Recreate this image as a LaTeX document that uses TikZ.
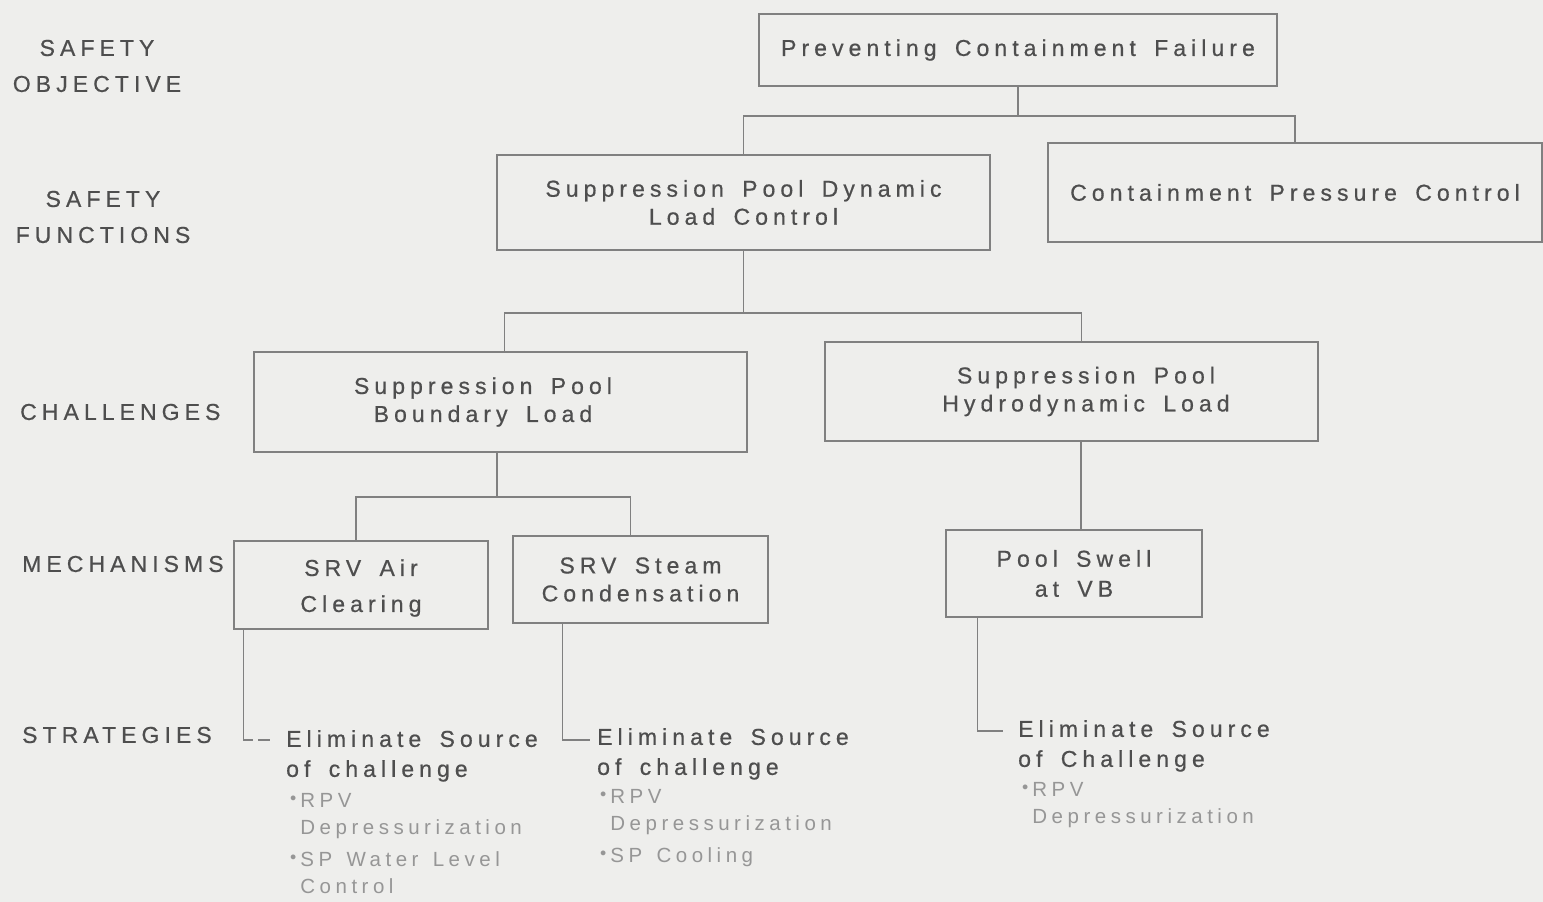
\documentclass[tikz,border=0pt]{standalone}
\usepackage{fontspec}
\setmainfont{Liberation Sans}[LetterSpace=22, WordSpace=1.6, FakeBold=0.6]
\newfontfamily\subfont{Liberation Sans}[LetterSpace=22, WordSpace=1.4]
\definecolor{paper}{RGB}{238,238,236}
\definecolor{ink}{RGB}{78,78,78}
\definecolor{rule}{RGB}{128,128,128}
\definecolor{faint}{RGB}{150,150,150}
\newcommand{\itemdot}{\raisebox{0.55ex}{\scalebox{0.6}{$\bullet$}}\hspace{4pt}}
\begin{document}
\begin{tikzpicture}[x=1pt,y=-1pt,
  box/.style={draw=rule, line width=1.4pt, inner sep=0pt, align=center,
    text=ink, font=\fontsize{23}{28}\selectfont},
  boxtext/.style={inner sep=0pt, align=center, text=ink,
    font=\fontsize{23}{28}\selectfont},
  level/.style={text=ink, inner sep=0pt, font=\fontsize{23}{36}\selectfont},
  link/.style={draw=rule, line width=1.4pt},
  head/.style={text=ink, inner sep=0pt, anchor=north west, align=left,
    font=\fontsize{23}{30}\selectfont},
  sub/.style={text=faint, inner sep=0pt, anchor=north west, align=left,
    font=\subfont\fontsize{20.5}{27}\selectfont}]
\useasboundingbox[fill=paper] (0,0) rectangle (1543,902);

% level labels on the left
\node[level, align=center] (lobj) at (97,66) {SAFETY\\OBJECTIVE};
\node[level, align=center] (lfun) at (103,217) {SAFETY\\FUNCTIONS};
\node[level, anchor=west] (lcha) at (20,412) {CHALLENGES};
\node[level, anchor=west] (lmec) at (22,564) {MECHANISMS};
\node[level, anchor=west] (lstr) at (22,735) {STRATEGIES};

% boxes
\node[box, minimum width=518, minimum height=72] (b1) at (1018,50)
  {Preventing Containment Failure};
\node[box, minimum width=493, minimum height=95] (b2) at (743.5,202.5)
  {Suppression Pool Dynamic\\Load Control};
\node[box, minimum width=494, minimum height=99] (b3) at (1295,192.5)
  {Containment Pressure Control};
\node[box, minimum width=493, minimum height=100] (b4) at (500.5,402) {};
\node[boxtext] (b4t) at (483,402) {Suppression Pool\\Boundary Load};
\node[box, minimum width=493, minimum height=99] (b5) at (1071.5,391.5) {};
\node[boxtext] (b5t) at (1086,391.5) {Suppression Pool\\Hydrodynamic Load};
\node[box, minimum width=254, minimum height=88] (b6) at (361,585) {};
\node[boxtext] (b6t) at (361,588) {SRV Air\\[8pt]Clearing};
\node[box, minimum width=255, minimum height=87] (b7) at (640.5,579.5)
  {SRV Steam\\Condensation};
\node[box, minimum width=256, minimum height=87] (b8) at (1074,573.5)
  {Pool Swell\\[2pt]at VB};

% tree connectors
\coordinate (j1) at (1018,116);
\draw[link] (b1.south) -- (j1);
\draw[link] (b2.north) |- (j1) -| (b3.north);

\coordinate (j2) at (743.5,313);
\draw[link] (b2.south) -- (j2);
\draw[link] ([xshift=4]b4.north) |- (j2) -| ([xshift=10]b5.north);

\coordinate (j3) at (497,497);
\draw[link] (b4.south -| j3) -- (j3);
\draw[link] ([xshift=-5]b6.north) |- (j3) -| ([xshift=-10]b7.north);

\draw[link] ([xshift=9.5]b5.south) -- ([xshift=9.5]b5.south |- b8.north);

% strategies
\node[head] (s1) at (286,730) {Eliminate Source\\of challenge};
\node[sub] (s1b) at (290,793) {\itemdot RPV\\\phantom{\itemdot}Depressurization\\[5pt]
  \itemdot SP Water Level\\\phantom{\itemdot}Control};
\node[head] (s2) at (597,728) {Eliminate Source\\of challenge};
\node[sub] (s2b) at (600,789) {\itemdot RPV\\\phantom{\itemdot}Depressurization\\[5pt]
  \itemdot SP Cooling};
\node[head] (s3) at (1018,720) {Eliminate Source\\of Challenge};
\node[sub] (s3b) at (1022,782) {\itemdot RPV\\\phantom{\itemdot}Depressurization};

\coordinate (c1) at (253,740);
\coordinate (c1e) at (270,740);
\draw[link] ([xshift=10]b6.south west) |- (c1);
\draw[link] ([xshift=-12]c1e) -- (c1e);
\coordinate (c2) at (590,740);
\draw[link] ([xshift=50]b7.south west) |- (c2);
\coordinate (c3) at (1003,731);
\draw[link] ([xshift=32]b8.south west) |- (c3);
\end{tikzpicture}
\end{document}
